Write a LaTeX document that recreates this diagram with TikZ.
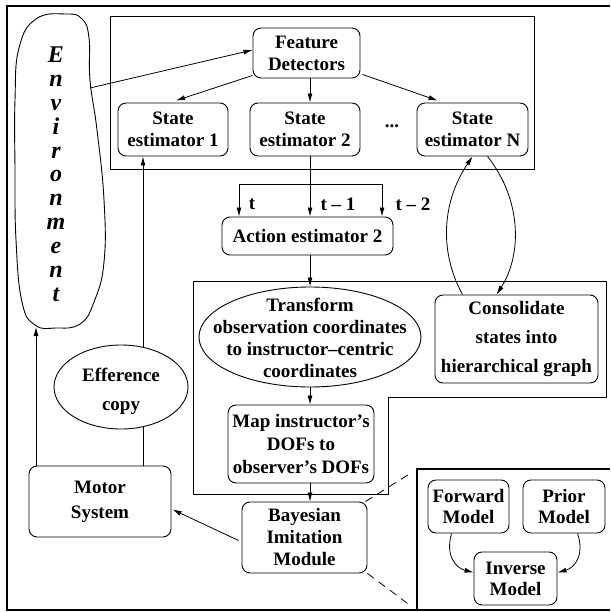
\documentclass[tikz,border=0pt]{standalone}
\usepackage{fontspec}
\setmainfont{Liberation Serif}
\usetikzlibrary{arrows.meta,shapes.geometric,calc}
\begin{document}
\begin{tikzpicture}[x=1pt,y=-1pt,
 box/.style={draw, rounded corners=8pt, line width=0.9pt, inner sep=0pt, align=center, font=\fontsize{19}{22}\selectfont\bfseries},
 txt/.style={inner sep=0pt, align=center, font=\fontsize{19}{22}\selectfont\bfseries},
 oval/.style={draw, ellipse, line width=0.9pt, inner sep=0pt, fill=white},
 arr/.style={-{Latex[length=9pt,width=5pt]}, line width=0.8pt},
 ln/.style={line width=0.8pt},
 frame/.style={line width=2.2pt},
 region/.style={line width=1pt},
 envl/.style={inner sep=0pt, font=\fontsize{24}{24}\selectfont\bfseries\itshape},
 ]
\useasboundingbox (0,0) rectangle (610,612);
% outer frame (open at right)
\draw[frame] (610,6) -- (7,6) -- (7,610) -- (610,610);
% top region
\draw[region] (110,17) rectangle (534,170);
% middle L-shaped region
\draw[region] (193,281) -- (606,281) -- (606,397) -- (388,397) -- (388,494) -- (193,494) -- cycle;
% inset region
\draw[frame] (417,610) -- (417,469) -- (610,469);

% environment blob
\draw[line width=0.9pt] plot[smooth cycle, tension=0.75] coordinates {
 (66,14) (82,19) (89,38) (90,80) (97,130) (104,200) (104,262) (94,302) (80,324)
 (56,328) (35,325) (22,302) (16,240) (15,170) (15,100) (19,48) (36,19)};
\foreach \ch [count=\i] in {E,n,v,i,r,o,n,m,e,n,t}
  \node[envl, anchor=base] (env\i) at (56, 63+23.8*\i-23.8) {\ch};
\coordinate (envbot) at (36,327);
\coordinate (envright) at (90,88);

% nodes
\node[box, minimum width=107pt, minimum height=50pt] (fd) at (306.5,53) {Feature\\Detectors};
\node[box, minimum width=110pt, minimum height=53pt] (se1) at (173,129.5) {State\\estimator 1};
\node[box, minimum width=110pt, minimum height=53pt] (se2) at (305,129.5) {State\\estimator 2};
\node[box, minimum width=111pt, minimum height=53pt] (sen) at (472.5,129.5) {State\\estimator N};
\node[txt] (dots) at (392,126) {...};
\node[box, minimum width=171pt, minimum height=38pt] (act) at (307.5,236) {Action estimator 2};
\node[oval, minimum width=222pt, minimum height=100pt] (tr) at (310,337) {};
\node[txt] (trtext) at (310,338) {Transform\\observation coordinates\\to instructor--centric\\coordinates};
\node[box, minimum width=146pt, minimum height=78pt, font=\fontsize{19}{23}\selectfont\bfseries] (map) at (301,444) {Map instructor's\\DOFs to\\observer's DOFs};
\node[box, minimum width=125pt, minimum height=71pt] (bayes) at (304.5,537.5) {Bayesian\\Imitation\\Module};
\node[box, minimum width=163pt, minimum height=88pt, font=\fontsize{19}{29}\selectfont\bfseries] (cons) at (516.5,339) {Consolidate\\states into\\hierarchical graph};
\node[box, minimum width=142pt, minimum height=71pt, font=\fontsize{19}{25}\selectfont\bfseries] (motor) at (100,501.5) {Motor\\System};
\node[box, minimum width=81pt, minimum height=53pt, font=\fontsize{19}{21}\selectfont\bfseries] (fwd) at (468.5,506.5) {Forward\\Model};
\node[box, minimum width=82pt, minimum height=53pt, font=\fontsize{19}{21}\selectfont\bfseries] (prior) at (564,506.5) {Prior\\Model};
\node[box, minimum width=83pt, minimum height=53pt, font=\fontsize{19}{21}\selectfont\bfseries] (inv) at (515.5,578.5) {Inverse\\Model};

% time labels
\node[txt] (lt) at (252,204) {t};
\node[txt] (lt1) at (338,204) {t -- 1};
\node[txt] (lt2) at (413,204) {t -- 2};

% column coordinates
\coordinate (col) at (310,0);
\coordinate (barl) at (239,184);
\coordinate (barr) at (382,184);
\coordinate (effx) at (143,0);
\coordinate (envx) at (36,0);

% connectors top
\draw[arr] (envright) -- ($(fd.west)+(0,-3)$);
\draw[arr] ($(fd.south west)+(0,-3)$) -- ($(se1.north)+(3,-2)$);
\draw[arr] (fd.south -| col) -- (se2.north -| col);
\draw[arr] ($(fd.south east)+(2,-4)$) -- ($(sen.north west)+(21,-2)$);

% time bar
\draw[ln] (barl) -- (barr);
\draw[arr] (se2.south -| col) -- (act.north -| col);
\draw[arr] (barl) -- (barl |- act.north);
\draw[arr] (barr) -- (barr |- act.north);

% main column
\draw[arr] (act.south -| col) -- (tr.north -| col);
\draw[arr] (tr.south -| col) -- (map.north -| col);
\draw[arr] (map.south -| col) -- (bayes.north -| col);

% state estimator N <-> consolidate
\draw[arr] ($(cons.north west)+(28,0)$) .. controls (438,250) and (443,200) .. ($(sen.south west)+(56,0)$);
\draw[arr] ($(sen.south west)+(71,0)$) .. controls (522,200) and (522,255) .. ($(cons.north west)+(62,0)$);

% motor system loops
\draw[arr] (motor.north -| effx) -- (se1.south -| effx);
\node[oval, minimum width=134pt, minimum height=84pt] (eff) at (121,387) {};
\node[txt, font=\fontsize{19}{29}\selectfont\bfseries] (efftext) at (121,391) {Efference\\copy};
\draw[arr] (motor.north -| envx) -- (envbot);
\draw[arr] ($(bayes.west)+(-3,3)$) -- ($(motor.east)+(1,8)$);

% dashed zoom lines
\coordinate (insettop) at (411,473);
\coordinate (insetbot) at (411,606);
\draw[ln, dash pattern=on 8pt off 6pt] ($(bayes.north east)+(-2,0)$) -- (insettop);
\draw[ln, dash pattern=on 8pt off 6pt] (bayes.south east) -- (insetbot);

% inset arrows
\draw[arr] ($(fwd.south west)+(24,0)$) .. controls (445,556) and (456,568) .. ($(inv.west)+(0,-6)$);
\draw[arr] ($(prior.south west)+(55,0)$) .. controls (585,556) and (574,568) .. ($(inv.east)+(0,-6)$);
\end{tikzpicture}
\end{document}
